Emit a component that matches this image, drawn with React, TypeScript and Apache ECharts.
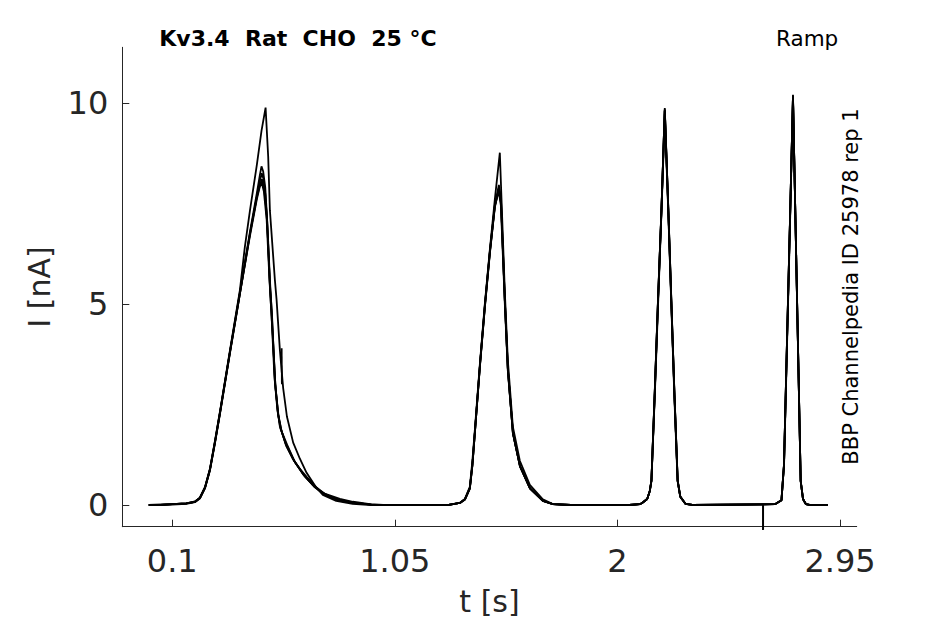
import React, { useEffect, useRef } from "react";
import * as echarts from "echarts";

// Tick labels
const xTicks = [0.1, 1.05, 2, 2.95];
const yTicks = [0, 5, 10];

// Traces: [t (s), I (nA)]
const traceA = [
  [0, 0], [0.05, 0], [0.1, 0.02], [0.16, 0.04], [0.197, 0.09], [0.218, 0.18], [0.24, 0.45], [0.261, 0.9],
  [0.282, 1.58], [0.304, 2.33], [0.346, 3.83], [0.389, 5.35], [0.41, 6.42], [0.432, 7.33], [0.461, 8.45],
  [0.481, 9.3], [0.4985, 9.88], [0.5096, 8.66], [0.5168, 7.33], [0.5382, 5.59], [0.5454, 5.1], [0.5595, 3.85],
  [0.5736, 2.9], [0.5895, 2.2], [0.6162, 1.55], [0.6448, 1.15], [0.6734, 0.8], [0.7131, 0.45], [0.7429, 0.25],
  [0.8, 0.1], [0.87, 0.03], [0.95, 0], [1.28, 0], [1.3275, 0.05], [1.349, 0.15], [1.37, 0.45], [1.381, 1.1],
  [1.3915, 1.87], [1.4128, 3.5], [1.4341, 5.0], [1.4555, 6.35], [1.4768, 7.6], [1.4981, 8.76], [1.5194, 5.3],
  [1.5322, 3.6], [1.5536, 1.95], [1.5834, 1.1], [1.6261, 0.5], [1.6816, 0.14], [1.7243, 0.02], [1.8, 0],
  [2.05, 0], [2.096, 0.02], [2.108, 0.06], [2.127, 0.15], [2.138, 0.35], [2.145, 0.62], [2.159, 2.8],
  [2.173, 5.1], [2.188, 7.4], [2.202, 9.87], [2.217, 7.4], [2.23, 5.1], [2.243, 2.8], [2.257, 0.62],
  [2.268, 0.22], [2.29, 0.03], [2.32, 0], [2.672, 0.02], [2.7, 0.12], [2.7107, 1.0], [2.7235, 4.07],
  [2.7363, 7.1], [2.7491, 10.2], [2.7619, 6.45], [2.7726, 3.35], [2.7819, 0.6], [2.7917, 0.15], [2.8045, 0.02],
  [2.82, 0], [2.8986, 0],
];

const traceB = [
  [0, 0], [0.05, 0], [0.1, 0.02], [0.16, 0.04], [0.197, 0.08], [0.218, 0.17], [0.24, 0.43], [0.261, 0.88],
  [0.282, 1.55], [0.304, 2.3], [0.346, 3.8], [0.389, 5.3], [0.432, 6.8], [0.461, 7.75], [0.474, 8.2],
  [0.481, 8.42], [0.488, 8.3], [0.497, 7.9], [0.506, 7.0], [0.517, 5.6], [0.527, 4.5], [0.54, 3.0],
  [0.552, 2.25], [0.566, 1.85], [0.585, 1.5], [0.615, 1.15], [0.655, 0.8], [0.7, 0.5], [0.74, 0.3],
  [0.8, 0.15], [0.87, 0.06], [0.95, 0.01], [1.0, 0], [1.28, 0], [1.3275, 0.05], [1.349, 0.14], [1.37, 0.42],
  [1.381, 1.0], [1.3915, 1.8], [1.4128, 3.45], [1.4341, 4.95], [1.4555, 6.3], [1.4768, 7.45], [1.494, 7.96],
  [1.503, 7.6], [1.5194, 5.1], [1.5322, 3.4], [1.5536, 1.8], [1.5834, 0.98], [1.6261, 0.42], [1.6816, 0.1],
  [1.7243, 0.02], [1.8, 0], [2.05, 0], [2.096, 0.02], [2.108, 0.06], [2.127, 0.15], [2.138, 0.35],
  [2.145, 0.6], [2.159, 2.75], [2.173, 5.05], [2.188, 7.35], [2.2015, 9.8], [2.2165, 7.35], [2.2295, 5.05],
  [2.2425, 2.75], [2.2565, 0.6], [2.268, 0.2], [2.29, 0.03], [2.32, 0], [2.672, 0.02], [2.7, 0.12],
  [2.7107, 1.0], [2.7235, 4.05], [2.7363, 7.05], [2.749, 10.15], [2.7619, 6.4], [2.7726, 3.3], [2.7819, 0.6],
  [2.7917, 0.15], [2.8045, 0.02], [2.82, 0], [2.8986, 0],
];

const traceC = [
  [0, 0], [0.05, 0.01], [0.1, 0.01], [0.16, 0.03], [0.197, 0.07], [0.218, 0.16], [0.24, 0.42], [0.261, 0.86],
  [0.282, 1.52], [0.304, 2.27], [0.346, 3.76], [0.389, 5.25], [0.432, 6.74], [0.461, 7.66], [0.474, 8.05],
  [0.482, 8.25], [0.489, 8.12], [0.498, 7.7], [0.507, 6.8], [0.518, 5.3], [0.528, 4.3], [0.541, 2.9],
  [0.554, 2.2], [0.568, 1.8], [0.588, 1.45], [0.62, 1.1], [0.66, 0.75], [0.705, 0.46], [0.745, 0.27],
  [0.8, 0.13], [0.87, 0.05], [0.95, 0.01], [1.0, 0], [1.28, 0], [1.3275, 0.05], [1.349, 0.13], [1.37, 0.4],
  [1.381, 0.98], [1.3915, 1.78], [1.4128, 3.42], [1.4341, 4.9], [1.4555, 6.25], [1.4768, 7.4], [1.4945, 7.9],
  [1.5035, 7.5], [1.52, 5.0], [1.533, 3.3], [1.555, 1.75], [1.585, 0.95], [1.628, 0.4], [1.683, 0.1],
  [1.7243, 0.02], [1.8, 0], [2.05, 0], [2.096, 0.02], [2.108, 0.06], [2.127, 0.15], [2.138, 0.34],
  [2.145, 0.6], [2.1595, 2.75], [2.1735, 5.0], [2.188, 7.3], [2.2025, 9.75], [2.217, 7.3], [2.23, 5.0],
  [2.2435, 2.75], [2.257, 0.6], [2.2685, 0.2], [2.29, 0.03], [2.32, 0], [2.672, 0.02], [2.7, 0.12],
  [2.711, 1.0], [2.7238, 4.0], [2.7365, 7.0], [2.7492, 10.1], [2.762, 6.4], [2.7727, 3.3], [2.782, 0.6],
  [2.7918, 0.15], [2.8045, 0.02], [2.82, 0], [2.8986, 0],
];

const traceD = [
  [0, 0], [0.05, 0], [0.1, 0.02], [0.16, 0.04], [0.197, 0.08], [0.218, 0.17], [0.24, 0.42], [0.261, 0.87],
  [0.282, 1.54], [0.304, 2.29], [0.346, 3.78], [0.389, 5.27], [0.432, 6.76], [0.4613, 7.66], [0.475, 7.98],
  [0.483, 8.1], [0.4925, 7.85], [0.504, 7.2], [0.5168, 5.5], [0.5253, 4.8], [0.538, 3.1], [0.551, 2.3],
  [0.5595, 1.95], [0.5836, 1.55], [0.62, 1.1], [0.6448, 0.9], [0.6734, 0.7], [0.7131, 0.45], [0.75, 0.28],
  [0.8155, 0.15], [0.8709, 0.08], [0.9435, 0.02], [1.0, 0], [1.28, 0], [1.3275, 0.05], [1.349, 0.14],
  [1.37, 0.42], [1.381, 1.0], [1.3915, 1.8], [1.4128, 3.45], [1.4341, 4.95], [1.4555, 6.3], [1.4768, 7.45],
  [1.494, 7.85], [1.503, 7.5], [1.5194, 5.1], [1.5322, 3.4], [1.5536, 1.8], [1.5834, 0.98], [1.6261, 0.42],
  [1.6816, 0.1], [1.7243, 0.02], [1.8, 0], [2.05, 0], [2.096, 0.02], [2.108, 0.06], [2.127, 0.15],
  [2.138, 0.35], [2.145, 0.6], [2.159, 2.78], [2.173, 5.08], [2.188, 7.38], [2.202, 9.84], [2.217, 7.38],
  [2.23, 5.08], [2.243, 2.78], [2.257, 0.6], [2.268, 0.21], [2.29, 0.03], [2.32, 0], [2.672, 0.02],
  [2.7, 0.12], [2.7107, 1.0], [2.7235, 4.06], [2.7363, 7.08], [2.7491, 10.18], [2.7619, 6.43], [2.7726, 3.33],
  [2.7819, 0.6], [2.7917, 0.15], [2.8045, 0.02], [2.82, 0], [2.8986, 0],
];

const traceE = [
  [0, 0], [0.05, 0.01], [0.1, 0.02], [0.16, 0.04], [0.197, 0.08], [0.218, 0.18], [0.24, 0.44], [0.261, 0.89],
  [0.282, 1.56], [0.304, 2.31], [0.346, 3.79], [0.389, 5.26], [0.432, 6.7], [0.461, 7.6], [0.474, 7.92],
  [0.4825, 8.0], [0.491, 7.8], [0.503, 7.1], [0.515, 5.6], [0.524, 4.7], [0.536, 3.2], [0.549, 2.35],
  [0.562, 1.9], [0.59, 1.5], [0.625, 1.05], [0.665, 0.72], [0.71, 0.44], [0.76, 0.24], [0.82, 0.12],
  [0.88, 0.05], [0.95, 0.01], [1.0, 0], [1.28, 0], [1.3275, 0.05], [1.349, 0.14], [1.37, 0.41],
  [1.381, 0.99], [1.3915, 1.79], [1.4128, 3.43], [1.4341, 4.92], [1.4555, 6.27], [1.4768, 7.42],
  [1.4935, 7.8], [1.5025, 7.45], [1.519, 5.05], [1.532, 3.35], [1.554, 1.78], [1.584, 0.96], [1.627, 0.41],
  [1.682, 0.1], [1.7243, 0.02], [1.8, 0], [2.05, 0], [2.096, 0.02], [2.108, 0.06], [2.127, 0.15],
  [2.138, 0.35], [2.145, 0.6], [2.159, 2.76], [2.173, 5.06], [2.188, 7.36], [2.202, 9.82], [2.217, 7.36],
  [2.23, 5.06], [2.243, 2.76], [2.257, 0.6], [2.268, 0.21], [2.29, 0.03], [2.32, 0], [2.672, 0.02],
  [2.7, 0.12], [2.7107, 1.0], [2.7235, 4.05], [2.7363, 7.06], [2.7491, 10.16], [2.7619, 6.42],
  [2.7726, 3.32], [2.7819, 0.6], [2.7917, 0.15], [2.8045, 0.02], [2.82, 0], [2.8986, 0],
];

// Short artefact segments
const glitchShort = [[0.567, 3.9], [0.568, 3.0]];
const glitchDown = [[2.6213, 0], [2.6213, -0.62]];

const traces = [traceA, traceB, traceC, traceD, traceE];

const FONT = "DejaVu Sans";
const AXIS_COLOR = "#262626";

export default function App() {
  const ref = useRef<HTMLDivElement>(null);

  useEffect(() => {
    document.body.style.margin = "0";
    if (!ref.current) return;
    const chart = echarts.init(ref.current, undefined, { renderer: "svg" });

    const lineSeries: any[] = traces.map((d, i) => ({
      type: "line",
      name: "trace" + (i + 1),
      data: d,
      showSymbol: false,
      symbol: "none",
      lineStyle: { color: "#000", width: 1.8 },
      z: 3,
    }));
    lineSeries.push({
      type: "line",
      name: "artefact1",
      data: glitchShort,
      showSymbol: false,
      symbol: "none",
      lineStyle: { color: "#000", width: 1.8 },
    });
    lineSeries.push({
      type: "line",
      name: "artefact2",
      data: glitchDown,
      showSymbol: false,
      symbol: "none",
      clip: false,
      lineStyle: { color: "#000", width: 2 },
    });

    chart.setOption({
      animation: false,
      backgroundColor: "#fff",
      textStyle: { fontFamily: FONT },
      grid: { left: 122.3, right: 88.3, top: 47.3, bottom: 97.3, containLabel: false },
      xAxis: {
        type: "value",
        min: -0.113,
        max: 3.021,
        name: "t [s]",
        nameLocation: "middle",
        nameGap: 60,
        nameTextStyle: { fontSize: 30, color: AXIS_COLOR, fontFamily: FONT },
        axisLine: { show: true, onZero: false, lineStyle: { color: AXIS_COLOR, width: 1 } },
        axisTick: { show: true, inside: true, length: 7, customValues: xTicks, lineStyle: { color: AXIS_COLOR } },
        axisLabel: {
          customValues: xTicks,
          fontSize: 32,
          color: AXIS_COLOR,
          fontFamily: FONT,
          margin: 18,
          formatter: (v: number) => String(v),
        },
        splitLine: { show: false },
      },
      yAxis: {
        type: "value",
        min: -0.54,
        max: 11.38,
        name: "I [nA]",
        nameLocation: "middle",
        nameGap: 68,
        nameRotate: 90,
        nameTextStyle: { fontSize: 30, color: AXIS_COLOR, fontFamily: FONT },
        axisLine: { show: true, onZero: false, lineStyle: { color: AXIS_COLOR, width: 1 } },
        axisTick: { show: true, inside: true, length: 7, customValues: yTicks, lineStyle: { color: AXIS_COLOR } },
        axisLabel: {
          customValues: yTicks,
          fontSize: 32,
          color: AXIS_COLOR,
          fontFamily: FONT,
          margin: 14,
          formatter: (v: number) => String(v),
        },
        splitLine: { show: false },
      },
      graphic: [
        {
          type: "text",
          left: 159.3,
          top: 27,
          style: {
            text: "Kv3.4  Rat  CHO  25 °C",
            fontSize: 22,
            fontWeight: "bold",
            fontFamily: FONT,
            fill: "#000",
          },
        },
        {
          type: "text",
          left: 776,
          top: 27,
          style: {
            text: "Ramp",
            fontSize: 21.5,
            fontFamily: FONT,
            fill: "#000",
          },
        },
        {
          type: "text",
          x: 851,
          y: 286.5,
          rotation: Math.PI / 2,
          style: {
            text: "BBP Channelpedia ID 25978 rep 1",
            fontSize: 21,
            fontFamily: FONT,
            fill: "#000",
            align: "center",
            verticalAlign: "middle",
          },
        },
      ],
      series: lineSeries,
    });

    return () => chart.dispose();
  }, []);

  return <div ref={ref} style={{ width: 945, height: 624 }} />;
}
